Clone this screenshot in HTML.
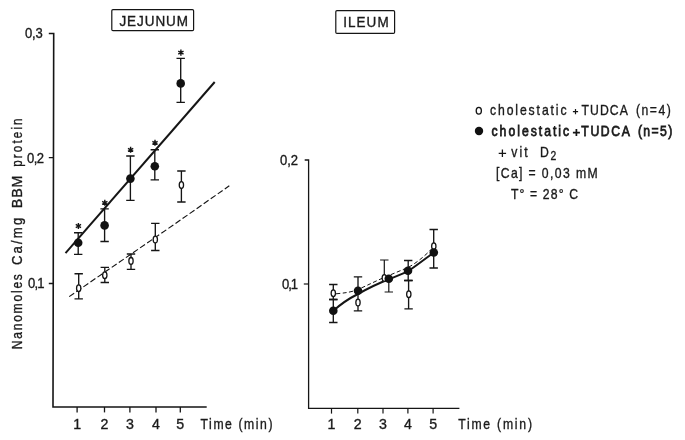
<!DOCTYPE html>
<html><head><meta charset="utf-8"><title>chart</title>
<style>
html,body{margin:0;padding:0;background:#fff;}
body{width:685px;height:440px;overflow:hidden;font-family:"Liberation Sans",sans-serif;}
svg{display:block;filter:grayscale(1);}
text{font-family:"Liberation Sans",sans-serif;fill:#1a1a1a;stroke:#1a1a1a;stroke-width:0.35px;}
</style></head><body>
<svg width="685" height="440" viewBox="0 0 685 440">
<rect width="685" height="440" fill="#fff"/>
<g fill="none" stroke="#151515" stroke-linecap="butt">
<path d="M48.8 33.5H53.7L53 407H206.7" stroke-width="1.6" stroke-linejoin="miter"/>
<path d="M48.8 157.7H53.6M48.8 283.5H53.6" stroke-width="1.3"/>
<path d="M77.1 407V412.4" stroke-width="1.3"/>
<path d="M104.5 407V412.4" stroke-width="1.3"/>
<path d="M129.9 407V412.4" stroke-width="1.3"/>
<path d="M156 407V412.4" stroke-width="1.3"/>
<path d="M180.3 407V412.4" stroke-width="1.3"/>
<path d="M65.5 253.2L214.7 82" stroke-width="2"/>
<path d="M69.2 296.6L175.4 223.6L229.3 185.8" stroke-width="1.15" stroke-dasharray="6 2.6"/>
<path d="M78.7 273.7V298.8M74.5 273.7H82.9M74.5 298.8H82.9" stroke-width="1.35"/>
<ellipse cx="78.7" cy="288.2" rx="2.15" ry="3.4" fill="#fff" stroke-width="1.3"/>
<path d="M104.8 267.4V282.5M100.6 267.4H109.0M100.6 282.5H109.0" stroke-width="1.35"/>
<ellipse cx="104.8" cy="275.2" rx="2.15" ry="3.4" fill="#fff" stroke-width="1.3"/>
<path d="M131 254V269.4M126.8 254H135.2M126.8 269.4H135.2" stroke-width="1.35"/>
<ellipse cx="131" cy="260.9" rx="2.15" ry="3.4" fill="#fff" stroke-width="1.3"/>
<path d="M155.3 223.4V250.5M151.10000000000002 223.4H159.5M151.10000000000002 250.5H159.5" stroke-width="1.35"/>
<ellipse cx="155.3" cy="239.5" rx="2.15" ry="3.4" fill="#fff" stroke-width="1.3"/>
<path d="M181.4 171V202M177.20000000000002 171H185.6M177.20000000000002 202H185.6" stroke-width="1.35"/>
<ellipse cx="181.4" cy="185.1" rx="2.15" ry="3.4" fill="#fff" stroke-width="1.3"/>
<path d="M78.2 232.7V254.3M74.0 232.7H82.4M74.0 254.3H82.4" stroke-width="1.35"/>
<circle cx="78.2" cy="242.8" r="4.3" fill="#111" stroke="none"/>
<path d="M78.4 222.95V229.05M75.76 224.47L81.04 227.53M75.76 227.53L81.04 224.47" stroke-width="1.4"/>
<path d="M104.6 208.8V241.5M100.39999999999999 208.8H108.8M100.39999999999999 241.5H108.8" stroke-width="1.35"/>
<circle cx="104.6" cy="225.4" r="4.3" fill="#111" stroke="none"/>
<path d="M104.8 199.75V205.85000000000002M102.16 201.28L107.44 204.33M102.16 204.33L107.44 201.28" stroke-width="1.4"/>
<path d="M130.4 156V200.4M126.2 156H134.6M126.2 200.4H134.6" stroke-width="1.35"/>
<circle cx="130.4" cy="178.6" r="4.3" fill="#111" stroke="none"/>
<path d="M130.6 146.75V152.85000000000002M127.96 148.28L133.24 151.33M127.96 151.33L133.24 148.28" stroke-width="1.4"/>
<path d="M154.8 149.7V179.8M150.60000000000002 149.7H159.0M150.60000000000002 179.8H159.0" stroke-width="1.35"/>
<circle cx="154.8" cy="166.3" r="4.3" fill="#111" stroke="none"/>
<path d="M155.0 139.75V145.85000000000002M152.36 141.28L157.64 144.33M152.36 144.33L157.64 141.28" stroke-width="1.4"/>
<path d="M180.7 58.4V102.3M176.5 58.4H184.89999999999998M176.5 102.3H184.89999999999998" stroke-width="1.35"/>
<circle cx="180.7" cy="83.4" r="4.3" fill="#111" stroke="none"/>
<path d="M180.89999999999998 49.550000000000004V55.65M178.26 51.08L183.54 54.12M178.26 54.12L183.54 51.08" stroke-width="1.4"/>
<path d="M304.7 160H308.6V408.3H459.4" stroke-width="1.3"/>
<path d="M303.8 284H308.6" stroke-width="1.2"/>
<path d="M331.5 408.3V413.6" stroke-width="1.2"/>
<path d="M357.8 408.3V413.6" stroke-width="1.2"/>
<path d="M383 408.3V413.6" stroke-width="1.2"/>
<path d="M407.9 408.3V413.6" stroke-width="1.2"/>
<path d="M433.1 408.3V413.6" stroke-width="1.2"/>
<path d="M333.3 284.5V299.5M329.1 284.5H337.5M329.1 299.5H337.5" stroke-width="1.35"/>
<path d="M333.3 299.5V322.5M329.1 299.5H337.5M329.1 322.5H337.5" stroke-width="1.35"/>
<path d="M358 276.8V310.8M353.8 276.8H362.2M353.8 310.8H362.2" stroke-width="1.35"/>
<path d="M384.3 260V278M380.1 260H388.5" stroke-width="1.2"/>
<path d="M388.8 279V292M384.6 292H393" stroke-width="1.2"/>
<path d="M408.2 260.5V280.5M404.0 260.5H412.4M404.0 280.5H412.4" stroke-width="1.35"/>
<path d="M408.6 280.5V308.8M404.40000000000003 280.5H412.8M404.40000000000003 308.8H412.8" stroke-width="1.35"/>
<path d="M433.7 229.5V268M429.5 229.5H437.9M429.5 268H437.9" stroke-width="1.35"/>
<path d="M336 293.8C345 293 352 292 358 289.5C368 285 376 281 384 277.5L408 267.5C414 264.5 424 257 431 249.5" stroke-width="1" stroke-dasharray="4 2.5"/>
<path d="M333.3 310.8C342 303 350 298 358 294C368 288.5 378 283.5 388.8 279.3L408 271.3C416 266 425 259 433.8 252.5" stroke-width="2"/>
<ellipse cx="333.3" cy="293.3" rx="2.15" ry="3.4" fill="#fff" stroke-width="1.3"/>
<ellipse cx="358" cy="302.5" rx="2.15" ry="3.4" fill="#fff" stroke-width="1.3"/>
<ellipse cx="384.3" cy="278" rx="2.15" ry="3.4" fill="#fff" stroke-width="1.3"/>
<ellipse cx="408.8" cy="294.3" rx="2.15" ry="3.4" fill="#fff" stroke-width="1.3"/>
<ellipse cx="433.8" cy="246.3" rx="2.15" ry="3.4" fill="#fff" stroke-width="1.3"/>
<circle cx="333.3" cy="310.8" r="4.3" fill="#111" stroke="none"/>
<circle cx="358" cy="290.8" r="4.3" fill="#111" stroke="none"/>
<circle cx="388.8" cy="278.8" r="4.3" fill="#111" stroke="none"/>
<circle cx="408" cy="270.8" r="4.3" fill="#111" stroke="none"/>
<circle cx="433.8" cy="252.5" r="4.3" fill="#111" stroke="none"/>
<rect x="111.8" y="9.6" width="81.8" height="21" rx="1.2" stroke-width="1.2"/>
<rect x="335.8" y="10.6" width="58.8" height="22.8" rx="1.2" stroke-width="1.2"/>
<ellipse cx="478.8" cy="110.7" rx="2.6" ry="3.4" stroke-width="1.3"/>
<circle cx="479" cy="131" r="4.2" fill="#111" stroke="none"/>
<path d="M572.9 111.6H578.1M575.5 109.0V114.19999999999999" stroke-width="1.2"/>
<path d="M572.9 132.6H579.9M576.4 129.1V136.1" stroke-width="1.7"/>
<path d="M498.7 153.3H506.09999999999997M502.4 149.60000000000002V157.0" stroke-width="1.3"/>
</g>
<text transform="translate(119.44 25.9) scale(0.95 1)" font-size="14.2" textLength="72.17" lengthAdjust="spacing" >JEJUNUM</text>
<text transform="translate(343.26 27.1) scale(0.95 1)" font-size="14.2" textLength="47.75" lengthAdjust="spacing" >ILEUM</text>
<text transform="translate(24.94 38.4) scale(0.92 1)" font-size="14.2" textLength="19.28" lengthAdjust="spacing" >0,3</text>
<text transform="translate(27.06 163.4) scale(0.92 1)" font-size="14.2" textLength="18.54" lengthAdjust="spacing" >0,2</text>
<text transform="translate(27.94 288.4) scale(0.92 1)" font-size="14.2" textLength="18.07" lengthAdjust="spacing" >0,1</text>
<text transform="translate(280.0 165.1) scale(0.92 1)" font-size="14.2" textLength="19.57" lengthAdjust="spacing" >0,2</text>
<text transform="translate(282.06 288.8) scale(0.92 1)" font-size="14.2" textLength="17.46" lengthAdjust="spacing" >0,1</text>
<text transform="translate(200.56 428.5) scale(0.86 1)" font-size="14.2" textLength="83.65" lengthAdjust="spacing" >Time (min)</text>
<text transform="translate(458.18 429) scale(0.86 1)" font-size="14.2" textLength="85.84" lengthAdjust="spacing" >Time (min)</text>
<text transform="translate(490.0 115) scale(0.86 1)" font-size="14.2" textLength="89.02" lengthAdjust="spacing" >cholestatic</text>
<text transform="translate(581.44 115) scale(0.86 1)" font-size="14.2" textLength="54.07" lengthAdjust="spacing" >TUDCA</text>
<text transform="translate(636.0 115) scale(0.86 1)" font-size="14.2" textLength="40.4" lengthAdjust="spacing" >(n=4)</text>
<text transform="translate(491.54 135.6) scale(0.86 1)" font-size="14.2" textLength="90.21" lengthAdjust="spacing" style="stroke-width:0.75px">cholestatic</text>
<text transform="translate(581.3 135.6) scale(0.86 1)" font-size="14.2" textLength="56.51" lengthAdjust="spacing" style="stroke-width:0.75px">TUDCA</text>
<text transform="translate(637.88 135.6) scale(0.86 1)" font-size="14.2" textLength="40.12" lengthAdjust="spacing" style="stroke-width:0.75px">(n=5)</text>
<text transform="translate(511.3 156.8) scale(0.86 1)" font-size="14.2" textLength="18.95" lengthAdjust="spacing" >vit</text>
<text transform="translate(539.9 156.8) scale(0.86 1)" font-size="14.2" >D</text>
<text transform="translate(495.94 178.3) scale(0.86 1)" font-size="14.2" textLength="118.23" lengthAdjust="spacing" >[Ca] = 0,03 mM</text>
<text transform="translate(511.06 199.2) scale(0.86 1)" font-size="14.2" textLength="77.84" lengthAdjust="spacing" >T° = 28° C</text>
<text transform="translate(77.1 428.6) scale(1.0 1)" font-size="14.2" text-anchor="middle">1</text>
<text transform="translate(104.5 428.6) scale(1.0 1)" font-size="14.2" text-anchor="middle">2</text>
<text transform="translate(129.9 428.6) scale(1.0 1)" font-size="14.2" text-anchor="middle">3</text>
<text transform="translate(156 428.6) scale(1.0 1)" font-size="14.2" text-anchor="middle">4</text>
<text transform="translate(180.3 428.6) scale(1.0 1)" font-size="14.2" text-anchor="middle">5</text>
<text transform="translate(331.5 429) scale(1.0 1)" font-size="14.2" text-anchor="middle">1</text>
<text transform="translate(357.8 429) scale(1.0 1)" font-size="14.2" text-anchor="middle">2</text>
<text transform="translate(383 429) scale(1.0 1)" font-size="14.2" text-anchor="middle">3</text>
<text transform="translate(407.9 429) scale(1.0 1)" font-size="14.2" text-anchor="middle">4</text>
<text transform="translate(433.1 429) scale(1.0 1)" font-size="14.2" text-anchor="middle">5</text>
<g transform="translate(21.8 0) rotate(-90)" style="stroke-width:0.2px">
<text transform="translate(-349.3 0) scale(0.85 1)" font-size="14.2" textLength="88.47" lengthAdjust="spacing" >Nanomoles</text>
<text transform="translate(-265.1 0) scale(0.92 1)" font-size="14.2" textLength="51.41" lengthAdjust="spacing" >Ca/mg</text>
<text transform="translate(-208.2 0) scale(1.0 1)" font-size="14.2" textLength="32.6" lengthAdjust="spacing" >BBM</text>
<text transform="translate(-166.8 0) scale(0.82 1)" font-size="14.2" textLength="59.02" lengthAdjust="spacing" >protein</text>
</g>
<text transform="translate(550.5 160.2) scale(0.86 1)" font-size="12" >2</text>
</svg></body></html>
